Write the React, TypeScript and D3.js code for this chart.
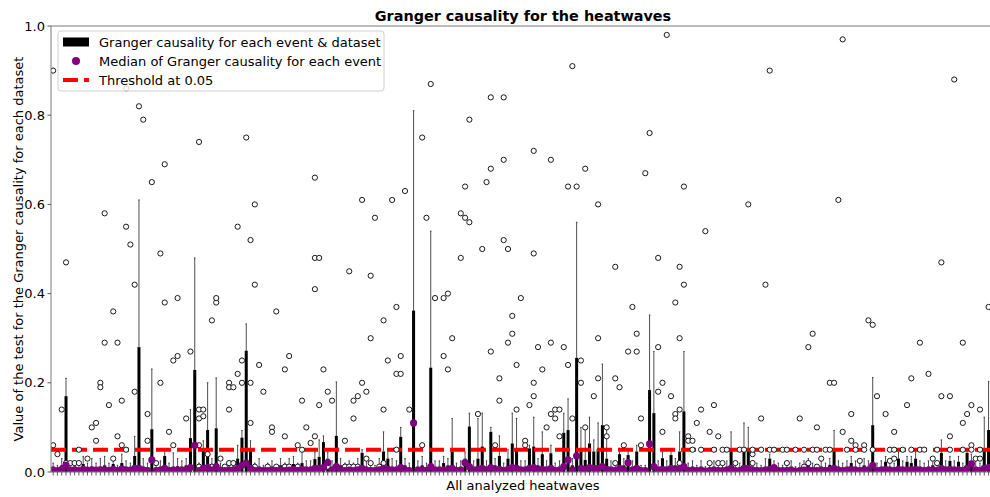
import React from 'react';
import * as d3 from 'd3';

// upper edge of the black box (q3) for every analysed heatwave
const boxTop = [
  0.012, 0.008, 0.015, 0.17, 0.01, 0.012, 0.008, 0.018, 0.01, 0.012,
  0.01, 0.012, 0.015, 0.01, 0.018, 0.008, 0.02, 0.012, 0.01, 0.036,
  0.28, 0.012, 0.01, 0.096, 0.008, 0.012, 0.036, 0.01, 0.012, 0.013,
  0.012, 0.015, 0.076, 0.229, 0.01, 0.049, 0.094, 0.012, 0.098, 0.01,
  0.008, 0.01, 0.012, 0.03, 0.077, 0.272, 0.05, 0.01, 0.012, 0.008,
  0.01, 0.012, 0.008, 0.015, 0.01, 0.012, 0.018, 0.01, 0.02, 0.012,
  0.012, 0.029, 0.034, 0.067, 0.03, 0.012, 0.081, 0.015, 0.01, 0.012,
  0.01, 0.015, 0.043, 0.012, 0.01, 0.008, 0.015, 0.046, 0.03, 0.012,
  0.012, 0.079, 0.015, 0.01, 0.362, 0.012, 0.015, 0.01, 0.234, 0.012,
  0.012, 0.02, 0.015, 0.046, 0.01, 0.012, 0.03, 0.102, 0.012, 0.03,
  0.057, 0.012, 0.09, 0.015, 0.036, 0.01, 0.03, 0.064, 0.052, 0.012,
  0.012, 0.053, 0.057, 0.015, 0.04, 0.012, 0.042, 0.01, 0.012, 0.088,
  0.094, 0.015, 0.256, 0.046, 0.027, 0.064, 0.046, 0.051, 0.105, 0.03,
  0.012, 0.008, 0.04, 0.015, 0.038, 0.012, 0.046, 0.008, 0.008, 0.184,
  0.132, 0.012, 0.031, 0.012, 0.038, 0.015, 0.046, 0.136, 0.01, 0.012,
  0.008, 0.012, 0.006, 0.01, 0.012, 0.01, 0.008, 0.012, 0.051, 0.01,
  0.01, 0.053, 0.05, 0.012, 0.01, 0.008, 0.012, 0.03, 0.012, 0.01,
  0.008, 0.01, 0.012, 0.006, 0.01, 0.012, 0.015, 0.01, 0.008, 0.012,
  0.01, 0.016, 0.051, 0.012, 0.01, 0.012, 0.02, 0.012, 0.01, 0.015,
  0.012, 0.105, 0.01, 0.012, 0.023, 0.012, 0.01, 0.03, 0.012, 0.023,
  0.02, 0.03, 0.012, 0.01, 0.012, 0.015, 0.01, 0.043, 0.012, 0.025,
  0.012, 0.023, 0.01, 0.043, 0.025, 0.012, 0.01, 0.051, 0.094, 0.012,
];

// end of the upper whisker
const whiskerTop = [
  0.02, 0.015, 0.03, 0.21, 0.02, 0.025, 0.018, 0.035, 0.02, 0.03,
  0.02, 0.03, 0.035, 0.02, 0.03, 0.015, 0.04, 0.025, 0.02, 0.08,
  0.61, 0.03, 0.02, 0.231, 0.02, 0.025, 0.05, 0.02, 0.043, 0.03,
  0.025, 0.03, 0.14, 0.48, 0.02, 0.07, 0.2, 0.03, 0.211, 0.02,
  0.015, 0.02, 0.025, 0.06, 0.093, 0.332, 0.07, 0.02, 0.03, 0.015,
  0.02, 0.025, 0.015, 0.03, 0.02, 0.03, 0.035, 0.02, 0.046, 0.025,
  0.025, 0.045, 0.072, 0.081, 0.045, 0.025, 0.202, 0.03, 0.02, 0.025,
  0.02, 0.03, 0.05, 0.025, 0.02, 0.015, 0.03, 0.09, 0.05, 0.03,
  0.025, 0.1, 0.03, 0.02, 0.81, 0.025, 0.035, 0.02, 0.54, 0.025,
  0.025, 0.035, 0.03, 0.12, 0.02, 0.025, 0.045, 0.132, 0.025, 0.12,
  0.132, 0.025, 0.1, 0.03, 0.081, 0.02, 0.05, 0.132, 0.12, 0.025,
  0.025, 0.06, 0.123, 0.03, 0.09, 0.025, 0.06, 0.02, 0.025, 0.132,
  0.164, 0.03, 0.56, 0.1, 0.1, 0.123, 0.072, 0.11, 0.242, 0.1,
  0.025, 0.015, 0.05, 0.03, 0.05, 0.025, 0.06, 0.015, 0.015, 0.352,
  0.27, 0.025, 0.045, 0.025, 0.05, 0.03, 0.09, 0.27, 0.02, 0.025,
  0.015, 0.025, 0.012, 0.02, 0.025, 0.02, 0.015, 0.025, 0.09, 0.02,
  0.02, 0.11, 0.1, 0.025, 0.02, 0.015, 0.03, 0.04, 0.025, 0.02,
  0.015, 0.02, 0.025, 0.012, 0.02, 0.025, 0.03, 0.02, 0.015, 0.025,
  0.02, 0.03, 0.093, 0.025, 0.02, 0.025, 0.035, 0.025, 0.02, 0.03,
  0.025, 0.212, 0.02, 0.025, 0.035, 0.025, 0.02, 0.045, 0.025, 0.035,
  0.035, 0.05, 0.025, 0.02, 0.025, 0.03, 0.02, 0.072, 0.025, 0.035,
  0.025, 0.035, 0.02, 0.05, 0.04, 0.025, 0.02, 0.123, 0.203, 0.025,
];

// median over the datasets of each event
const medians = [
  0.004, 0.003, 0.006, 0.015, 0.004, 0.005, 0.003, 0.006, 0.004, 0.005,
  0.004, 0.005, 0.005, 0.003, 0.006, 0.003, 0.007, 0.004, 0.004, 0.008,
  0.008, 0.004, 0.003, 0.027, 0.003, 0.004, 0.008, 0.003, 0.004, 0.005,
  0.004, 0.005, 0.01, 0.06, 0.003, 0.008, 0.01, 0.004, 0.012, 0.003,
  0.003, 0.004, 0.004, 0.008, 0.015, 0.02, 0.008, 0.003, 0.004, 0.003,
  0.003, 0.004, 0.003, 0.005, 0.003, 0.004, 0.006, 0.003, 0.006, 0.004,
  0.004, 0.008, 0.008, 0.01, 0.021, 0.004, 0.012, 0.005, 0.003, 0.004,
  0.003, 0.005, 0.008, 0.004, 0.003, 0.003, 0.005, 0.008, 0.006, 0.004,
  0.004, 0.01, 0.005, 0.003, 0.11, 0.004, 0.005, 0.003, 0.012, 0.004,
  0.004, 0.005, 0.005, 0.008, 0.003, 0.004, 0.021, 0.012, 0.004, 0.006,
  0.008, 0.004, 0.01, 0.005, 0.006, 0.003, 0.006, 0.01, 0.008, 0.004,
  0.004, 0.008, 0.01, 0.005, 0.006, 0.004, 0.008, 0.003, 0.004, 0.012,
  0.027, 0.005, 0.036, 0.008, 0.006, 0.01, 0.008, 0.008, 0.012, 0.006,
  0.004, 0.003, 0.008, 0.005, 0.021, 0.004, 0.008, 0.003, 0.003, 0.063,
  0.012, 0.004, 0.006, 0.004, 0.008, 0.005, 0.008, 0.012, 0.003, 0.004,
  0.003, 0.004, 0.002, 0.003, 0.004, 0.003, 0.003, 0.004, 0.008, 0.003,
  0.003, 0.008, 0.008, 0.004, 0.003, 0.003, 0.004, 0.006, 0.01, 0.003,
  0.003, 0.003, 0.004, 0.002, 0.003, 0.004, 0.005, 0.003, 0.003, 0.004,
  0.003, 0.005, 0.008, 0.004, 0.003, 0.004, 0.006, 0.004, 0.003, 0.005,
  0.004, 0.015, 0.003, 0.004, 0.006, 0.004, 0.003, 0.006, 0.004, 0.005,
  0.005, 0.006, 0.004, 0.003, 0.004, 0.005, 0.003, 0.008, 0.004, 0.006,
  0.004, 0.005, 0.003, 0.008, 0.018, 0.004, 0.003, 0.008, 0.01, 0.004,
];

// [event index, value] of the outlying datasets
const outliers: [number, number][] = [
  [0, 0.9], [0, 0.06], [1, 0.04], [2, 0.14], [3, 0.47], [3, 0.02], [4, 0.02], [5, 0.02], [6, 0.05], [6, 0.02],
  [8, 0.03], [9, 0.1], [10, 0.11], [10, 0.07], [11, 0.2], [11, 0.19], [12, 0.58], [12, 0.29], [13, 0.15], [14, 0.36],
  [14, 0.03], [15, 0.29], [15, 0.08], [16, 0.16], [16, 0.06], [17, 0.86], [17, 0.55], [17, 0.05], [18, 0.51], [19, 0.42],
  [19, 0.18], [20, 0.82], [21, 0.79], [22, 0.13], [22, 0.07], [23, 0.65], [24, 0.02], [25, 0.49], [25, 0.2], [26, 0.69],
  [26, 0.38], [27, 0.09], [28, 0.25], [28, 0.06], [29, 0.26], [29, 0.39], [31, 0.12], [32, 0.27], [34, 0.74], [34, 0.14],
  [34, 0.12], [34, 0.06], [34, 0.012], [35, 0.14], [35, 0.125], [36, 0.04], [37, 0.34], [37, 0.012], [38, 0.38], [38, 0.39],
  [39, 0.03], [40, 0.012], [41, 0.2], [41, 0.19], [41, 0.14], [41, 0.02], [42, 0.19], [42, 0.02], [43, 0.55], [43, 0.22],
  [44, 0.25], [44, 0.2], [45, 0.75], [46, 0.52], [46, 0.2], [46, 0.11], [47, 0.6], [47, 0.42], [47, 0.012], [48, 0.24],
  [49, 0.18], [50, 0.012], [51, 0.1], [51, 0.09], [52, 0.36], [52, 0.012], [54, 0.23], [54, 0.08], [54, 0.012], [55, 0.26],
  [55, 0.012], [57, 0.06], [57, 0.012], [58, 0.05], [58, 0.16], [59, 0.1], [60, 0.065], [61, 0.48], [61, 0.66], [61, 0.41],
  [61, 0.08], [62, 0.48], [62, 0.15], [63, 0.23], [64, 0.18], [64, 0.012], [65, 0.16], [68, 0.07], [68, 0.012], [69, 0.45],
  [69, 0.012], [70, 0.16], [70, 0.12], [70, 0.012], [71, 0.17], [71, 0.012], [72, 0.61], [72, 0.2], [73, 0.18], [73, 0.03],
  [74, 0.44], [74, 0.3], [74, 0.02], [75, 0.57], [76, 0.012], [77, 0.14], [77, 0.34], [77, 0.02], [78, 0.25], [79, 0.61],
  [80, 0.37], [80, 0.05], [80, 0.22], [81, 0.22], [81, 0.26], [82, 0.63], [83, 0.14], [86, 0.75], [86, 0.06], [87, 0.57],
  [88, 0.87], [89, 0.39], [91, 0.26], [91, 0.39], [92, 0.4], [92, 0.23], [93, 0.3], [95, 0.48], [95, 0.58], [96, 0.64],
  [96, 0.57], [97, 0.56], [97, 0.79], [99, 0.13], [100, 0.5], [101, 0.65], [102, 0.68], [102, 0.84], [102, 0.27], [103, 0.06],
  [104, 0.21], [104, 0.16], [105, 0.84], [105, 0.7], [105, 0.52], [106, 0.5], [106, 0.29], [107, 0.35], [107, 0.31], [108, 0.24],
  [108, 0.14], [109, 0.39], [110, 0.07], [110, 0.06], [111, 0.15], [112, 0.72], [112, 0.49], [112, 0.2], [112, 0.17], [113, 0.28],
  [114, 0.23], [115, 0.1], [116, 0.29], [116, 0.13], [116, 0.7], [117, 0.14], [117, 0.12], [118, 0.14], [118, 0.08], [119, 0.28],
  [120, 0.64], [120, 0.24], [121, 0.91], [121, 0.12], [122, 0.64], [123, 0.25], [123, 0.2], [124, 0.68], [124, 0.1], [126, 0.17],
  [127, 0.6], [127, 0.3], [127, 0.21], [129, 0.1], [129, 0.08], [131, 0.46], [131, 0.21], [131, 0.02], [132, 0.19], [133, 0.06],
  [134, 0.27], [135, 0.37], [136, 0.31], [136, 0.27], [137, 0.12], [137, 0.06], [138, 0.67], [139, 0.76], [141, 0.48], [141, 0.28],
  [141, 0.18], [142, 0.2], [142, 0.09], [143, 0.98], [144, 0.17], [145, 0.38], [145, 0.13], [145, 0.12], [146, 0.3], [146, 0.14],
  [146, 0.46], [146, 0.02], [147, 0.42], [147, 0.64], [148, 0.08], [148, 0.07], [149, 0.07], [149, 0.05], [150, 0.11], [151, 0.14],
  [151, 0.05], [152, 0.54], [153, 0.09], [153, 0.02], [154, 0.15], [154, 0.05], [155, 0.08], [155, 0.02], [156, 0.05], [156, 0.02],
  [157, 0.05], [159, 0.02], [160, 0.05], [161, 0.05], [162, 0.6], [163, 0.04], [163, 0.05], [163, 0.02], [165, 0.12], [165, 0.05],
  [166, 0.42], [167, 0.9], [167, 0.05], [168, 0.05], [170, 0.05], [171, 0.05], [171, 0.02], [173, 0.05], [174, 0.12], [175, 0.05],
  [175, 0.012], [176, 0.28], [176, 0.02], [177, 0.31], [177, 0.05], [178, 0.1], [178, 0.05], [178, 0.012], [179, 0.03], [180, 0.05],
  [181, 0.2], [181, 0.05], [182, 0.2], [183, 0.61], [184, 0.97], [184, 0.09], [185, 0.05], [186, 0.13], [186, 0.07], [187, 0.06],
  [187, 0.05], [188, 0.025], [189, 0.06], [189, 0.05], [190, 0.34], [191, 0.33], [191, 0.05], [192, 0.17], [194, 0.13], [195, 0.05],
  [195, 0.025], [196, 0.09], [196, 0.05], [196, 0.03], [198, 0.05], [199, 0.15], [200, 0.21], [200, 0.05], [202, 0.29], [202, 0.05],
  [203, 0.05], [204, 0.22], [205, 0.03], [206, 0.05], [206, 0.02], [207, 0.47], [207, 0.17], [209, 0.17], [209, 0.08], [209, 0.05],
  [210, 0.88], [212, 0.11], [212, 0.29], [212, 0.05], [213, 0.13], [214, 0.15], [214, 0.06], [214, 0.05], [215, 0.03], [216, 0.14],
  [216, 0.05], [216, 0.03], [218, 0.37],
];

const yTicks = [0, 0.2, 0.4, 0.6, 0.8, 1.0];
const threshold = 0.05;

const legendLabels = [
  'Granger causality for each event & dataset',
  'Median of Granger causality for each event',
  'Threshold at 0.05',
];

const W = 990;
const H = 497;
const plot = { left: 51, right: 995, top: 26, bottom: 472 };
const font = 'DejaVu Sans, sans-serif';

export default function App() {
  const n = boxTop.length;
  const x = d3.scaleLinear().domain([0.5, n + 0.5]).range([plot.left, plot.right]);
  const y = d3.scaleLinear().domain([0, 1]).range([plot.bottom, plot.top]);
  const step = x(2) - x(1);
  const boxW = step * 0.7;
  const capW = boxW * 0.5;
  const events = d3.range(n);

  return (
    <svg width={W} height={H} style={{ position: 'absolute', left: 0, top: 0, background: '#fff' }}>
      <defs>
        <clipPath id="plot-area">
          <rect x={plot.left} y={plot.top} width={plot.right - plot.left} height={plot.bottom - plot.top} />
        </clipPath>
      </defs>
      <rect width={W} height={H} fill="#fff" />

      <g clipPath="url(#plot-area)">
        {/* whiskers + caps */}
        {events.map(i => (
          <g key={'w' + i} stroke="#222" strokeWidth={0.8}>
            <line x1={x(i + 1)} x2={x(i + 1)} y1={y(boxTop[i])} y2={y(whiskerTop[i])} />
            <line x1={x(i + 1) - capW / 2} x2={x(i + 1) + capW / 2} y1={y(whiskerTop[i])} y2={y(whiskerTop[i])} />
          </g>
        ))}
        {/* boxes */}
        {events.map(i => (
          <rect key={'b' + i} x={x(i + 1) - boxW / 2} width={boxW}
            y={y(boxTop[i])} height={y(0) - y(boxTop[i])} fill="#000" />
        ))}
        {/* threshold */}
        <line x1={plot.left} x2={plot.right} y1={y(threshold)} y2={y(threshold)}
          stroke="#ff0000" strokeWidth={4} strokeDasharray="15 6" />
        {/* fliers */}
        {outliers.map(([e, v], k) => (
          <circle key={'o' + k} cx={x(e + 1)} cy={y(v)} r={2.6} fill="#fff" stroke="#000" strokeWidth={0.9} />
        ))}
        {/* medians */}
        {events.map(i => (
          <circle key={'m' + i} cx={x(i + 1)} cy={y(medians[i])} r={3.6} fill="#800080" />
        ))}
      </g>

      {/* spines */}
      <g stroke="#7a7a7a" strokeWidth={1} fill="none">
        <line x1={plot.left} x2={plot.left} y1={plot.top} y2={plot.bottom} />
        <line x1={plot.left} x2={plot.right} y1={plot.top} y2={plot.top} />
        <line x1={plot.left} x2={plot.right} y1={plot.bottom} y2={plot.bottom} />
      </g>

      {/* x ticks, one per event, no labels */}
      <g stroke="#333" strokeWidth={0.8}>
        {events.map(i => (
          <line key={'xt' + i} x1={x(i + 1)} x2={x(i + 1)} y1={plot.bottom} y2={plot.bottom + 3.5} />
        ))}
      </g>

      {/* y axis */}
      <g fontFamily={font} fontSize={13} fill="#000">
        {yTicks.map(t => (
          <g key={'yt' + t}>
            <line x1={plot.left - 3.5} x2={plot.left} y1={y(t)} y2={y(t)} stroke="#333" strokeWidth={0.8} />
            <text x={plot.left - 6} y={y(t)} dy="0.35em" textAnchor="end">{d3.format('.1f')(t)}</text>
          </g>
        ))}
      </g>

      <text x={(plot.left + plot.right) / 2} y={20.5} textAnchor="middle" fontFamily={font}
        fontSize={14.4} fontWeight="bold">Granger causality for the heatwaves</text>
      <text x={(plot.left + plot.right) / 2} y={490} textAnchor="middle" fontFamily={font}
        fontSize={13}>All analyzed heatwaves</text>
      <text transform={`translate(23,${(plot.top + plot.bottom) / 2}) rotate(-90)`} textAnchor="middle"
        fontFamily={font} fontSize={13}>Value of the test for the Granger causality for each dataset</text>

      {/* legend */}
      <g fontFamily={font} fontSize={13}>
        <rect x={58} y={31} width={326} height={60} rx={3} fill="#fff" fillOpacity={0.8} stroke="#d0d0d0" strokeWidth={1} />
        <rect x={63} y={37.5} width={26} height={9} fill="#000" />
        <circle cx={76} cy={61} r={4} fill="#800080" />
        <line x1={63} x2={89} y1={80} y2={80} stroke="#ff0000" strokeWidth={4} strokeDasharray="15 6" />
        {legendLabels.map((l, k) => (
          <text key={l} x={99} y={46.5 + k * 19}>{l}</text>
        ))}
      </g>
    </svg>
  );
}
